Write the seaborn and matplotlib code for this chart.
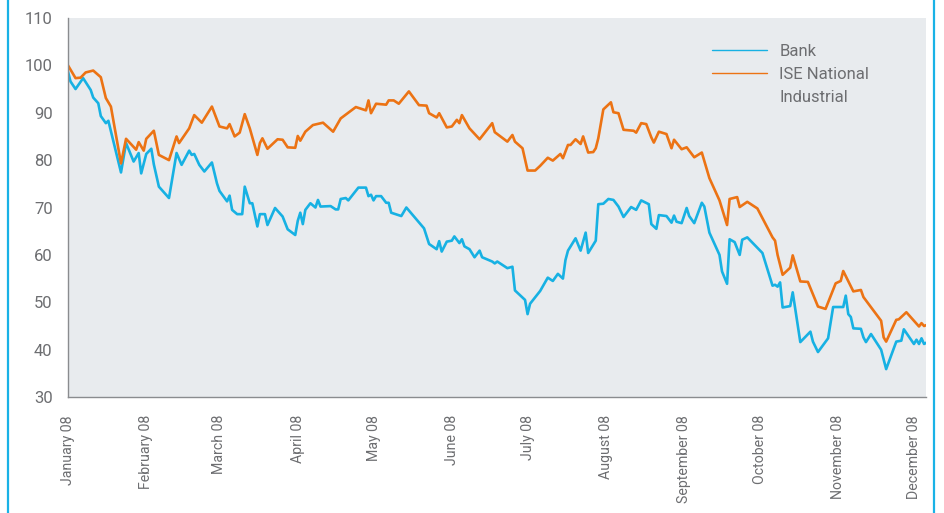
import pandas as pd
import numpy as np
import matplotlib.pyplot as plt
import matplotlib.dates as mdates
from matplotlib.lines import Line2D
import seaborn as sns

# days after 1 January 2008
bank_day = [0, 1, 3, 6, 9, 10, 12, 13, 15, 16, 21, 23, 26, 28, 29, 31, 33, 34, 36, 40,
            43, 45, 48, 49, 50, 52, 54, 57, 59, 60, 63, 64, 65, 67, 69, 70, 72, 73, 75, 76,
            78, 79, 82, 85, 87, 90, 91, 92, 93, 94, 96, 98, 99, 100, 104, 106, 107, 108, 110, 111,
            115, 118, 119, 120, 121, 122, 124, 126, 127, 128, 132, 134, 141, 143, 146, 147, 148, 150, 152, 153,
            155, 156, 157, 159, 161, 163, 164, 168, 169, 170, 174, 176, 177, 181, 182, 183, 187, 190, 192, 194,
            196, 197, 198, 201, 203, 205, 206, 209, 210, 212, 214, 216, 218, 220, 223, 225, 227, 230, 231, 233,
            234, 237, 239, 240, 241, 243, 245, 246, 248, 251, 252, 254, 258, 259, 261, 262, 264, 266, 267, 269,
            275, 279, 280, 281, 282, 283, 286, 287, 290, 294, 295, 297, 301, 303, 307, 308, 309, 310, 311, 314,
            315, 316, 318, 322, 324, 328, 330, 331, 335, 336, 337, 338, 339, 340]
bank = [98.7, 96.6, 95.0, 97.3, 94.8, 93.2, 92.0, 89.3, 87.8, 88.3, 77.4, 83.6, 79.7, 81.5, 77.2, 81.3, 82.4, 79.1, 74.4, 72.0,
        81.5, 79.0, 82.0, 81.1, 81.3, 79.0, 77.6, 79.5, 75.1, 73.5, 71.3, 72.5, 69.5, 68.6, 68.6, 74.4, 70.9, 70.9, 66.0, 68.6,
        68.6, 66.3, 69.9, 68.1, 65.4, 64.2, 67.2, 68.9, 66.5, 69.5, 70.9, 70.0, 71.6, 70.2, 70.3, 69.6, 69.6, 71.8, 72.0, 71.5,
        74.2, 74.2, 72.4, 72.7, 71.5, 72.4, 72.4, 71.0, 71.0, 68.9, 68.2, 70.0, 65.6, 62.3, 61.2, 62.9, 60.7, 62.8, 63.0, 63.9,
        62.5, 63.3, 61.8, 61.2, 59.5, 60.9, 59.5, 58.6, 58.2, 58.6, 57.2, 57.5, 52.5, 50.5, 47.5, 49.7, 52.4, 55.2, 54.5, 56.0,
        55.0, 58.9, 60.9, 63.5, 60.9, 64.7, 60.4, 63.0, 70.7, 70.8, 71.8, 71.6, 70.2, 68.0, 70.1, 69.5, 71.5, 70.7, 66.5, 65.5,
        68.4, 68.2, 66.8, 68.3, 67.0, 66.7, 69.9, 68.2, 66.7, 71.0, 70.2, 64.7, 60.0, 56.5, 53.9, 63.3, 62.7, 60.0, 63.2, 63.7,
        60.4, 53.5, 53.7, 53.3, 54.2, 48.9, 49.2, 52.1, 41.6, 43.8, 41.7, 39.5, 42.4, 49.0, 49.0, 51.4, 47.5, 46.9, 44.5, 44.4,
        42.6, 41.6, 43.3, 40.0, 35.9, 41.7, 41.9, 44.3, 41.2, 42.1, 41.2, 42.4, 41.2, 41.5]

ise_day = [0, 3, 5, 7, 10, 13, 15, 17, 21, 23, 27, 28, 30, 31, 34, 36, 40, 43, 44, 48,
           50, 53, 57, 60, 63, 64, 66, 68, 70, 72, 75, 76, 77, 79, 83, 85, 87, 90, 91, 92,
           94, 97, 101, 105, 108, 114, 118, 119, 120, 122, 126, 127, 129, 131, 135, 139, 142, 143, 146, 147,
           150, 152, 154, 155, 156, 159, 163, 168, 169, 174, 176, 177, 180, 182, 185, 187, 190, 192, 195, 196,
           198, 199, 201, 203, 204, 206, 208, 209, 210, 212, 215, 216, 218, 220, 224, 225, 227, 229, 231, 232,
           234, 237, 239, 240, 243, 245, 248, 251, 254, 258, 261, 262, 265, 266, 269, 273, 279, 280, 281, 283,
           286, 287, 290, 293, 297, 300, 304, 306, 307, 311, 314, 315, 322, 323, 324, 328, 329, 332, 337, 338,
           339, 340]
ise = [100.0, 97.3, 97.4, 98.5, 98.9, 97.5, 93.1, 91.3, 79.3, 84.5, 82.2, 83.8, 82.0, 84.5, 86.2, 81.1, 80.0, 85.0, 83.6, 86.7,
       89.5, 87.9, 91.3, 87.1, 86.7, 87.6, 85.0, 85.8, 89.7, 86.7, 81.1, 83.6, 84.6, 82.4, 84.4, 84.3, 82.7, 82.6, 85.1, 84.1,
       86.0, 87.4, 87.9, 86.0, 88.8, 91.2, 90.5, 92.6, 89.9, 91.9, 91.7, 92.6, 92.6, 91.9, 94.5, 91.6, 91.5, 89.9, 89.0, 89.9,
       86.9, 87.1, 88.5, 87.8, 89.5, 86.7, 84.4, 87.8, 85.9, 83.9, 85.3, 83.9, 82.5, 77.8, 77.8, 78.8, 80.5, 79.9, 81.3, 80.4,
       83.2, 83.2, 84.4, 83.4, 85.0, 81.6, 81.7, 82.5, 84.6, 90.7, 92.2, 90.1, 89.9, 86.4, 86.2, 85.8, 87.8, 87.6, 84.8, 83.7,
       86.0, 85.5, 82.5, 84.3, 82.3, 82.7, 80.6, 81.6, 76.2, 71.5, 66.3, 71.8, 72.2, 70.1, 71.2, 69.8, 63.7, 63.0, 60.0, 55.8,
       57.3, 59.9, 54.4, 54.3, 49.1, 48.6, 54.0, 54.5, 56.6, 52.3, 52.6, 51.1, 46.1, 42.6, 41.7, 46.3, 46.4, 47.9, 44.9, 45.6,
       45.0, 45.2]

months = ['January', 'February', 'March', 'April', 'May', 'June', 'July', 'August',
          'September', 'October', 'November', 'December']

start = pd.Timestamp('2008-01-01')
bank_df = pd.DataFrame({'date': start + pd.to_timedelta(bank_day, unit='D'), 'value': bank})
ise_df = pd.DataFrame({'date': start + pd.to_timedelta(ise_day, unit='D'), 'value': ise})

sns.set_style('white')
plt.rcParams['font.family'] = ['Roboto', 'DejaVu Sans']

bank_color = '#17b1e3'
ise_color = '#ec7314'
grey = '#6d6e71'

fig = plt.figure(figsize=(9.44, 5.13), dpi=100)
ax = fig.add_axes([0.072, 0.226, 0.909, 0.739])
ax.set_facecolor('#e8ebee')

sns.lineplot(data=bank_df, x='date', y='value', ax=ax, color=bank_color, linewidth=1.9)
sns.lineplot(data=ise_df, x='date', y='value', ax=ax, color=ise_color, linewidth=1.9)

ax.set_ylim(30, 110)
ax.set_yticks(range(30, 111, 10))
ax.set_xlim(start, start + pd.Timedelta(days=339.8))
ticks = pd.date_range('2008-01-01', '2008-12-01', freq='MS')
ax.set_xticks(ticks)
ax.set_xticklabels([f'{m} 08' for m in months], rotation=90)
ax.set_xlabel('')
ax.set_ylabel('')

for s in ['top', 'right']:
    ax.spines[s].set_visible(False)
for s in ['left', 'bottom']:
    ax.spines[s].set_color('#8a8c8f')
    ax.spines[s].set_linewidth(1.0)
ax.tick_params(axis='both', direction='out', length=6, width=1, color='#8a8c8f',
               labelcolor=grey, pad=5)
ax.tick_params(axis='y', labelsize=12)
ax.tick_params(axis='x', labelsize=10.2, pad=7)

handles = [Line2D([], [], color=bank_color, linewidth=1),
           Line2D([], [], color=ise_color, linewidth=1),
           Line2D([], [], color='none', linewidth=1)]
leg = ax.legend(handles, ['Bank', 'ISE National', 'Industrial'], loc='upper left',
                bbox_to_anchor=(0.733, 0.972), frameon=False, fontsize=12,
                handlelength=3.3, handletextpad=0.75, labelspacing=0.5)
for t in leg.get_texts():
    t.set_color(grey)

# cyan frame lines at the figure edges
fig.add_artist(Line2D([0.0085, 0.0085], [0, 1], transform=fig.transFigure, color='#19b2e6', linewidth=1.6))
fig.add_artist(Line2D([0.9895, 0.9895], [0, 1], transform=fig.transFigure, color='#19b2e6', linewidth=1.6))

fig.savefig('out.png', dpi=100, facecolor='white')
